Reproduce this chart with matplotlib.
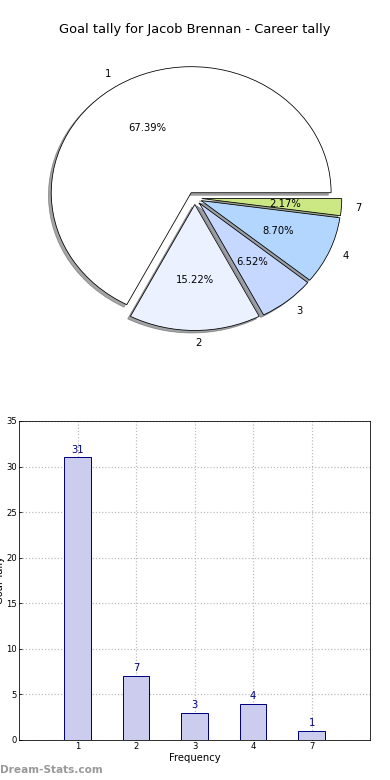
"""Goal tally pie + frequency bar chart for one player."""

import matplotlib

matplotlib.use("Agg")
import matplotlib.pyplot as plt

categories = ["1", "2", "3", "4", "7"]
tallies = [31, 7, 3, 4, 1]
slice_colors = ["#ffffff", "#ebf1ff", "#c6d8ff", "#b3d6ff", "#cce884"]
y_ticks = [0, 5, 10, 15, 20, 25, 30, 35]

title = "Goal tally for Jacob Brennan - Career tally"

fig = plt.figure(figsize=(390 / 72, 780 / 72), dpi=72)

# pie, old-style: stretched to the axes box instead of a true circle
ax_pie = fig.add_axes([0.051, 0.544, 0.897, 0.404])
wedges, texts, autotexts = ax_pie.pie(
    tallies,
    labels=categories,
    colors=slice_colors,
    explode=[0.05] * len(tallies),
    autopct="%1.2f%%",
    shadow=True,
    startangle=0,
    wedgeprops={"edgecolor": "black", "linewidth": 0.8},
    textprops={"fontsize": 10},
)
ax_pie.set_aspect("auto")
ax_pie.set_xlim(-1.25, 1.25)
ax_pie.set_ylim(-1.25, 1.25)
ax_pie.set_title(title, fontsize=13, pad=8)

# bars
ax_bar = fig.add_axes([0.049, 0.0513, 0.9, 0.409])
xs = list(range(len(categories)))
ax_bar.bar(xs, tallies, width=0.45, color="#ccccee", edgecolor="#000080", linewidth=1.0, zorder=2)
for x, v in zip(xs, tallies):
    ax_bar.text(x, v + 0.3, str(v), ha="center", va="bottom", fontsize=10, color="#000080")
ax_bar.set_xlim(-1, len(categories))
ax_bar.set_ylim(0, 35)
ax_bar.set_xticks(xs)
ax_bar.set_xticklabels(categories)
ax_bar.set_yticks(y_ticks)
ax_bar.tick_params(labelsize=8.5, length=3, direction="in", pad=2)
ax_bar.grid(True, linestyle=":", color="#bbbbbb", linewidth=1.2, zorder=0)
ax_bar.set_xlabel("Frequency", fontsize=10, labelpad=2)
ax_bar.set_ylabel("Goal Tally", fontsize=10)
ax_bar.yaxis.set_label_coords(-0.04, 0.5)

fig.text(0.0, 0.006, "Dream-Stats.com", fontsize=10.5, fontweight="bold", color="#999999", ha="left", va="bottom")

fig.savefig("out.png", dpi=72)
